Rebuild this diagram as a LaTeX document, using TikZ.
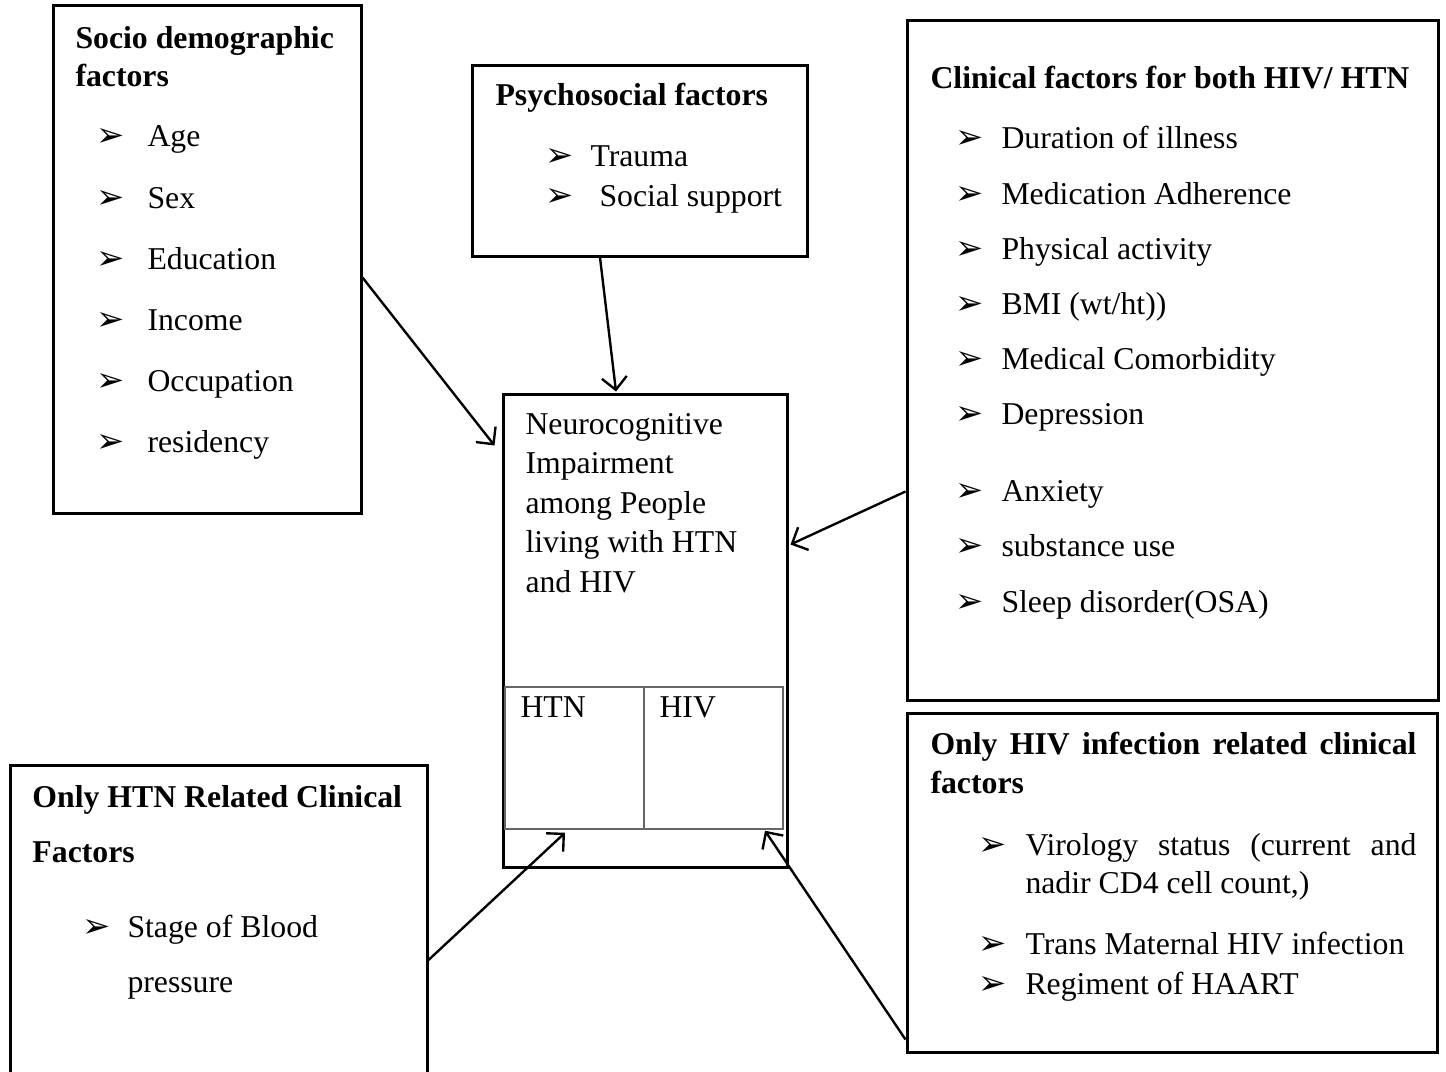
\documentclass[tikz,border=0pt]{standalone}
\usepackage{fontspec}
\setmainfont{Liberation Serif}
\newfontfamily\dingfont{DejaVu Sans}
\usetikzlibrary{calc, fit, arrows.meta}

\newcommand{\arrbullet}{{\dingfont\fontsize{13.5}{15}\selectfont ➢}}

\begin{document}
\begin{tikzpicture}[x=0.4pt, y=-0.4pt,
    box/.style={draw, line width=1.2pt, inner sep=0pt},
    cell/.style={draw, black!60, line width=0.6pt, inner sep=0pt},
    txt/.style={anchor=base west, inner sep=0pt, font=\fontsize{12.7}{15}\selectfont},
    ttl/.style={txt, font=\fontsize{12.7}{15}\selectfont\bfseries},
    conn/.style={line width=0.95pt, -{Straight Barb[length=5pt,width=10pt]}}]

\useasboundingbox (0,0) rectangle (1446,1072);

% boxes
\node[box, fit={(53,6) (361,513)}] (socio) {};
\node[box, fit={(472,66) (807,256)}] (psych) {};
\node[box, fit={(907,21) (1438,700)}] (clin) {};
\node[box, fit={(503,394) (787,867)}] (centre) {};
\node[cell, fit={(505,687) (644,829)}] (htncell) {};
\node[cell, fit={(644,687) (783,829)}] (hivcell) {};
\node[box, fit={(10,765) (427,1085)}] (htnbox) {};
\node[box, fit={(907,713) (1437,1052)}] (hivbox) {};

% socio demographic
\node[ttl] (sociot1) at (75,49) {Socio demographic};
\node[ttl] (sociot2) at (75,87) {factors};
\foreach \t [count=\i from 0] in {Age,Sex,Education,Income,Occupation,residency}{
    \node[txt] (sb\i) at (96,147+61*\i) {\arrbullet};
    \node[txt] (si\i) at (147,147+61*\i) {\t};
}

% psychosocial
\node[ttl] (psycht) at (495,106) {Psychosocial factors};
\node[txt] (pb1) at (545,166) {\arrbullet};
\node[txt] (pi1) at (590,166) {Trauma};
\node[txt] (pb2) at (545,206) {\arrbullet};
\node[txt] (pi2) at (599,206) {Social support};

% clinical factors
\node[ttl] (clint) at (930,89) {Clinical factors for both HIV/ HTN};
\foreach \t/\y [count=\i] in {Duration of illness/149, Medication Adherence/204,
    Physical activity/259, {BMI (wt/ht))}/314, Medical Comorbidity/369,
    Depression/424, Anxiety/501, substance use/556, Sleep disorder(OSA)/612}{
    \node[txt] (cb\i) at (955,\y) {\arrbullet};
    \node[txt] (ci\i) at (1001,\y) {\t};
}

% centre
\foreach \t [count=\i from 0] in {Neurocognitive, Impairment, among People,
    living with HTN, and HIV}{
    \node[txt] (ct\i) at (525,434+39.5*\i) {\t};
}
\node[txt] (htnlab) at (520,717) {HTN};
\node[txt] (hivlab) at (659,717) {HIV};

% only HTN
\node[ttl] (htnt1) at (32,807) {Only HTN Related Clinical};
\node[ttl] (htnt2) at (32,862) {Factors};
\node[txt] (hb1) at (82,937) {\arrbullet};
\node[txt] (hi1) at (127,937) {Stage of Blood};
\node[txt] (hi2) at (127,992) {pressure};

% only HIV
\node[ttl] (hivt1) at (930,754) {\makebox[194.4pt][s]{Only HIV infection related clinical}};
\node[ttl] (hivt2) at (930,793) {factors};
\node[txt] (vb1) at (978,855) {\arrbullet};
\node[txt] (vi1) at (1025,855) {\makebox[156.4pt][s]{Virology status (current and}};
\node[txt] (vi2) at (1025,893) {nadir CD4 cell count,)};
\node[txt] (vb3) at (978,954) {\arrbullet};
\node[txt] (vi3) at (1025,954) {Trans Maternal HIV infection};
\node[txt] (vb4) at (978,994) {\arrbullet};
\node[txt] (vi4) at (1025,994) {Regiment of HAART};

% arrows
\draw[conn] ($(socio.east)+(0,18)$) -- ($(centre.west)+(-7,-185)$);
\draw[conn] ($(psych.south)+(-39.5,0)$) -- ($(centre.north)+(-29,-1)$);
\draw[conn] ($(clin.west)+(0,131)$) -- ($(centre.east)+(2,-86)$);
\draw[conn] ($(htnbox.east)+(0,35)$) -- ($(htncell.south)+(-9.5,3)$);
\draw[conn] ($(hivbox.west)+(0,157)$) -- ($(hivcell.south)+(51.5,1)$);
\end{tikzpicture}
\end{document}
